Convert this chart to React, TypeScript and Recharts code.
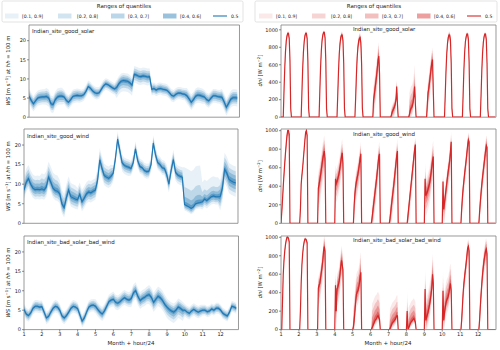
import React from "react";
import { ComposedChart, Area, Line, XAxis, YAxis, ReferenceArea } from "recharts";

const FONT = "'DejaVu Sans', 'Liberation Sans', sans-serif";
const BLUE = "#1f77b4";
const RED = "#d62728";

const MONTH_TICKS = [1, 2, 3, 4, 5, 6, 7, 8, 9, 10, 11, 12];
const WS_TICKS = [0, 5, 10, 15, 20];
const DNI_TICKS = [0, 200, 400, 600, 800, 1000];
const QUANTILE_LABELS = ["[0.1, 0.9]", "[0.2, 0.8]", "[0.3, 0.7]", "[0.4, 0.6]"];
const MEDIAN_LABEL = "0.5";
const LEGEND_TITLE = "Ranges of quantiles";
const SITE_NAMES = ["Indian_site_good_solar", "Indian_site_good_wind", "Indian_site_bad_solar_bad_wind"];
const X_LABEL = "Month + hour/24";

// hours of day sampled in each month
const WS_HOURS = [0, 3, 6, 9, 12, 15, 18, 21];
const DNI_HOURS = [0, 1, 2, 3, 4, 5, 6, 7, 8, 9, 10, 11, 12, 13, 14, 23];

// ---------- wind speed medians (per month, per sampled hour) ----------
const WS_GOOD_SOLAR = [
  [5.5, 4.4, 3.5, 4.3, 5.0, 5.2, 5.3, 5.3],
  [5.4, 5.0, 3.5, 3.3, 4.6, 5.3, 5.5, 5.5],
  [5.3, 4.4, 3.9, 4.6, 5.4, 5.6, 5.7, 5.6],
  [5.6, 5.9, 6.8, 8.0, 7.6, 6.9, 6.4, 6.2],
  [6.4, 7.3, 8.2, 8.7, 8.5, 8.1, 7.7, 7.4],
  [7.8, 8.8, 9.4, 9.6, 9.5, 9.4, 9.0, 8.4],
  [11.2, 11.0, 10.7, 10.6, 10.8, 10.7, 10.5, 10.6],
  [7.3, 7.5, 7.1, 7.4, 7.5, 7.3, 7.2, 7.0],
  [6.4, 5.7, 5.5, 6.0, 6.3, 6.3, 6.1, 6.0],
  [5.6, 4.8, 3.9, 4.6, 5.5, 5.8, 5.7, 5.5],
  [5.3, 4.6, 4.3, 5.0, 5.6, 5.6, 5.4, 5.3],
  [5.2, 4.0, 2.6, 3.6, 4.7, 5.1, 5.1, 5.0],
];
const WS_GOOD_WIND = [
  [8.5, 10.5, 11.4, 10.0, 9.0, 8.6, 8.7, 8.6],
  [8.8, 8.5, 9.3, 11.8, 10.5, 9.0, 8.4, 8.2],
  [7.6, 5.0, 4.0, 6.5, 8.5, 6.8, 6.5, 6.2],
  [6.0, 7.4, 5.5, 6.4, 7.5, 8.0, 7.8, 8.2],
  [8.5, 11.0, 16.2, 14.0, 12.2, 11.8, 11.5, 12.0],
  [12.8, 16.5, 21.5, 18.5, 15.5, 14.8, 14.5, 14.3],
  [14.0, 15.5, 19.0, 16.0, 14.5, 14.2, 13.5, 13.2],
  [13.3, 15.0, 20.5, 17.5, 15.5, 15.0, 14.2, 14.0],
  [12.5, 10.0, 13.5, 16.3, 13.0, 12.3, 12.0, 11.8],
  [4.8, 4.5, 4.2, 3.8, 4.2, 5.0, 5.2, 5.3],
  [5.5, 6.2, 5.8, 6.3, 6.8, 7.0, 6.8, 6.8],
  [6.8, 9.0, 13.8, 12.8, 11.2, 10.8, 10.5, 10.3],
];
const WS_BAD = [
  [5.2, 4.0, 3.6, 4.3, 5.5, 6.0, 6.0, 5.8],
  [5.9, 4.5, 3.0, 3.4, 4.5, 5.5, 6.0, 5.8],
  [5.0, 3.5, 3.0, 3.6, 4.5, 5.5, 6.0, 5.8],
  [5.4, 3.8, 2.2, 3.0, 4.5, 5.8, 6.2, 6.3],
  [6.0, 5.2, 4.5, 4.0, 4.8, 6.0, 7.2, 7.6],
  [7.8, 7.0, 6.8, 7.2, 7.8, 8.2, 7.8, 7.6],
  [8.0, 9.5, 10.0, 8.5, 7.5, 8.0, 8.3, 8.8],
  [9.0, 8.3, 7.0, 7.8, 8.6, 8.2, 7.5, 6.5],
  [5.8, 5.2, 4.8, 4.5, 5.0, 5.8, 5.5, 5.0],
  [5.0, 4.5, 4.2, 4.8, 5.2, 4.8, 4.5, 4.8],
  [5.0, 5.0, 4.6, 4.8, 5.3, 5.0, 5.5, 5.5],
  [5.0, 4.2, 3.8, 3.5, 4.5, 6.0, 5.8, 5.5],
];

// ---------- dni medians (per month, hours 0..14 and 23) ----------
const DNI_GOOD_SOLAR = [
  [0, 0, 0, 0, 300, 560, 750, 870, 930, 960, 960, 900, 650, 100, 0, 0],
  [0, 0, 0, 0, 280, 550, 740, 860, 930, 960, 960, 900, 640, 100, 0, 0],
  [0, 0, 0, 0, 300, 570, 760, 880, 940, 970, 970, 910, 650, 100, 0, 0],
  [0, 0, 0, 0, 250, 520, 720, 840, 910, 940, 940, 880, 620, 100, 0, 0],
  [0, 0, 0, 0, 220, 480, 680, 800, 870, 900, 910, 850, 600, 100, 0, 0],
  [0, 0, 0, 0, 200, 260, 330, 400, 470, 560, 650, 700, 500, 0, 0, 0],
  [0, 0, 0, 0, 30, 60, 80, 100, 120, 150, 200, 350, 150, 0, 0, 0],
  [0, 0, 0, 0, 30, 70, 100, 110, 130, 170, 250, 350, 150, 0, 0, 0],
  [0, 0, 0, 0, 150, 280, 330, 400, 480, 550, 620, 660, 300, 0, 0, 0],
  [0, 0, 0, 0, 250, 520, 720, 840, 910, 940, 940, 880, 620, 100, 0, 0],
  [0, 0, 0, 0, 260, 540, 740, 860, 920, 950, 950, 890, 630, 100, 0, 0],
  [0, 0, 0, 0, 250, 530, 730, 850, 920, 950, 950, 890, 620, 100, 0, 0],
];
const DNI_GOOD_WIND = [
  [0, 120, 250, 400, 530, 650, 760, 860, 950, 1000, 1000, 960, 0, 0, 0, 0],
  [0, 0, 150, 420, 520, 600, 700, 800, 900, 980, 1000, 950, 0, 0, 0, 0],
  [0, 0, 380, 420, 470, 520, 580, 640, 700, 740, 780, 700, 0, 0, 0, 0],
  [0, 480, 430, 450, 480, 510, 550, 600, 660, 720, 760, 650, 0, 0, 0, 0],
  [0, 0, 200, 320, 400, 450, 490, 530, 580, 640, 700, 750, 0, 0, 0, 0],
  [0, 0, 60, 130, 200, 270, 340, 410, 480, 560, 640, 720, 750, 0, 0, 0],
  [0, 0, 50, 120, 200, 270, 340, 410, 490, 570, 650, 730, 780, 0, 0, 0],
  [0, 0, 80, 160, 240, 320, 400, 480, 560, 640, 720, 800, 850, 0, 0, 0],
  [0, 480, 300, 320, 340, 370, 400, 430, 480, 540, 610, 680, 720, 0, 0, 0],
  [0, 450, 150, 220, 290, 360, 430, 500, 560, 620, 680, 780, 880, 0, 0, 0],
  [0, 0, 150, 280, 380, 460, 540, 610, 680, 760, 840, 900, 880, 0, 0, 0],
  [0, 0, 120, 230, 330, 420, 500, 570, 640, 710, 780, 840, 820, 0, 0, 0],
];
const DNI_BAD = [
  [0, 0, 300, 600, 750, 850, 920, 970, 1000, 1000, 990, 950, 0, 0, 0, 0],
  [0, 0, 200, 500, 700, 820, 900, 950, 980, 980, 970, 940, 0, 0, 0, 0],
  [0, 0, 450, 480, 500, 560, 620, 680, 750, 850, 900, 850, 0, 0, 0, 0],
  [0, 480, 200, 440, 460, 490, 530, 600, 680, 750, 700, 650, 0, 0, 0, 0],
  [0, 30, 100, 200, 300, 380, 410, 420, 450, 500, 580, 620, 0, 0, 0, 0],
  [0, 0, 20, 40, 60, 80, 100, 110, 120, 140, 150, 130, 110, 0, 0, 0],
  [0, 0, 10, 30, 50, 70, 80, 90, 100, 110, 130, 150, 150, 0, 0, 0],
  [0, 200, 0, 20, 40, 60, 80, 90, 100, 110, 120, 100, 80, 0, 0, 0],
  [0, 440, 100, 130, 160, 190, 230, 270, 320, 380, 450, 600, 500, 0, 0, 0],
  [0, 420, 100, 180, 240, 290, 320, 340, 360, 400, 460, 500, 420, 0, 0, 0],
  [0, 0, 100, 250, 400, 500, 580, 650, 720, 800, 880, 900, 850, 0, 0, 0],
  [0, 0, 100, 250, 380, 500, 600, 680, 750, 800, 850, 870, 820, 0, 0, 0],
];

// ---------- quantile spreads below / above the median, per month ----------
const WS_GOOD_SOLAR_LO10 = [2.0, 2.2, 1.8, 1.6, 1.5, 2.8, 2.2, 1.6, 1.6, 2.0, 1.8, 2.2];
const WS_GOOD_SOLAR_LO20 = [1.4, 1.5, 1.3, 1.1, 1.0, 1.9, 1.5, 1.1, 1.1, 1.4, 1.3, 1.5];
const WS_GOOD_SOLAR_LO30 = [0.9, 1.0, 0.8, 0.7, 0.65, 1.2, 0.9, 0.7, 0.7, 0.9, 0.8, 1.0];
const WS_GOOD_SOLAR_LO40 = [0.4, 0.45, 0.35, 0.3, 0.3, 0.55, 0.4, 0.3, 0.3, 0.4, 0.35, 0.45];
const WS_GOOD_SOLAR_HI60 = [0.4, 0.45, 0.35, 0.3, 0.3, 0.4, 0.4, 0.3, 0.3, 0.4, 0.35, 0.45];
const WS_GOOD_SOLAR_HI70 = [0.9, 1.0, 0.8, 0.7, 0.65, 0.9, 0.9, 0.7, 0.7, 0.9, 0.8, 1.0];
const WS_GOOD_SOLAR_HI80 = [1.4, 1.5, 1.3, 1.1, 1.0, 1.4, 1.5, 1.1, 1.1, 1.4, 1.3, 1.5];
const WS_GOOD_SOLAR_HI90 = [2.0, 2.2, 1.8, 1.6, 1.5, 2.0, 2.2, 1.6, 1.6, 2.0, 1.8, 2.2];

const WS_GOOD_WIND_LO10 = [2.5, 2.5, 2.5, 2.5, 2.5, 2.2, 1.8, 1.8, 2.2, 1.5, 2.0, 3.5];
const WS_GOOD_WIND_LO20 = [1.8, 1.8, 1.8, 1.8, 1.8, 1.5, 1.3, 1.3, 1.5, 1.1, 1.4, 2.5];
const WS_GOOD_WIND_LO30 = [1.1, 1.1, 1.1, 1.1, 1.1, 0.9, 0.8, 0.8, 0.9, 0.7, 0.9, 1.6];
const WS_GOOD_WIND_LO40 = [0.5, 0.5, 0.5, 0.5, 0.5, 0.4, 0.35, 0.35, 0.4, 0.3, 0.4, 0.7];
const WS_GOOD_WIND_HI60 = [0.7, 0.8, 0.7, 0.6, 0.6, 0.4, 0.4, 0.4, 0.5, 0.8, 0.6, 0.9];
const WS_GOOD_WIND_HI70 = [1.5, 1.7, 1.5, 1.3, 1.3, 0.9, 0.9, 0.9, 1.1, 2.0, 1.3, 1.9];
const WS_GOOD_WIND_HI80 = [2.4, 2.7, 2.4, 2.1, 2.1, 1.4, 1.4, 1.4, 1.7, 4.5, 2.5, 3.0];
const WS_GOOD_WIND_HI90 = [3.5, 4.0, 3.5, 3.0, 3.0, 2.0, 2.0, 2.0, 2.5, 9.5, 5.0, 4.2];

const WS_BAD_LO10 = [1.6, 1.6, 1.6, 1.6, 1.8, 1.8, 2.2, 2.5, 2.8, 1.6, 1.4, 1.4];
const WS_BAD_LO20 = [1.1, 1.1, 1.1, 1.1, 1.2, 1.2, 1.5, 1.7, 1.9, 1.1, 1.0, 1.0];
const WS_BAD_LO30 = [0.7, 0.7, 0.7, 0.7, 0.8, 0.8, 1.0, 1.1, 1.2, 0.7, 0.6, 0.6];
const WS_BAD_LO40 = [0.3, 0.3, 0.3, 0.3, 0.35, 0.35, 0.45, 0.5, 0.55, 0.3, 0.3, 0.3];
const WS_BAD_HI60 = [0.3, 0.3, 0.3, 0.3, 0.35, 0.4, 0.45, 0.5, 0.45, 0.3, 0.3, 0.3];
const WS_BAD_HI70 = [0.7, 0.7, 0.7, 0.7, 0.8, 0.9, 1.0, 1.1, 1.0, 0.7, 0.6, 0.6];
const WS_BAD_HI80 = [1.1, 1.1, 1.1, 1.1, 1.2, 1.4, 1.5, 1.7, 1.5, 1.1, 1.0, 1.0];
const WS_BAD_HI90 = [1.6, 1.6, 1.6, 1.6, 1.8, 2.0, 2.2, 2.5, 2.2, 1.6, 1.4, 1.4];

const DNI_GOOD_SOLAR_LO10 = [40, 40, 40, 60, 80, 220, 100, 100, 200, 60, 40, 40];
const DNI_GOOD_SOLAR_LO20 = [25, 25, 25, 40, 55, 150, 70, 70, 140, 40, 25, 25];
const DNI_GOOD_SOLAR_LO30 = [15, 15, 15, 25, 35, 90, 40, 40, 80, 25, 15, 15];
const DNI_GOOD_SOLAR_LO40 = [5, 5, 5, 10, 15, 40, 20, 20, 35, 10, 5, 5];
const DNI_GOOD_SOLAR_HI60 = [5, 5, 5, 10, 15, 40, 20, 40, 40, 10, 5, 5];
const DNI_GOOD_SOLAR_HI70 = [10, 10, 10, 20, 30, 80, 40, 90, 80, 20, 10, 10];
const DNI_GOOD_SOLAR_HI80 = [15, 15, 15, 30, 45, 120, 60, 160, 110, 30, 15, 15];
const DNI_GOOD_SOLAR_HI90 = [25, 25, 25, 40, 60, 160, 80, 250, 140, 40, 25, 25];

const DNI_GOOD_WIND_LO10 = [80, 60, 250, 200, 200, 200, 200, 180, 220, 200, 150, 160];
const DNI_GOOD_WIND_LO20 = [55, 40, 170, 140, 140, 140, 140, 120, 150, 140, 100, 110];
const DNI_GOOD_WIND_LO30 = [35, 25, 100, 80, 80, 80, 80, 70, 90, 80, 60, 65];
const DNI_GOOD_WIND_LO40 = [15, 10, 45, 35, 35, 35, 35, 30, 40, 35, 25, 30];
const DNI_GOOD_WIND_HI60 = [5, 5, 40, 30, 30, 30, 30, 20, 40, 25, 20, 25];
const DNI_GOOD_WIND_HI70 = [10, 10, 80, 60, 60, 60, 60, 40, 80, 50, 40, 50];
const DNI_GOOD_WIND_HI80 = [15, 15, 120, 100, 90, 90, 90, 60, 120, 80, 60, 80];
const DNI_GOOD_WIND_HI90 = [20, 20, 170, 150, 130, 130, 130, 80, 170, 110, 80, 110];

const DNI_BAD_LO10 = [40, 40, 200, 200, 150, 60, 60, 50, 150, 150, 150, 160];
const DNI_BAD_LO20 = [25, 25, 140, 140, 100, 40, 40, 35, 100, 100, 100, 110];
const DNI_BAD_LO30 = [15, 15, 80, 80, 60, 25, 25, 20, 60, 60, 60, 65];
const DNI_BAD_LO40 = [5, 5, 35, 35, 25, 10, 10, 8, 25, 25, 25, 30];
const DNI_BAD_HI60 = [5, 5, 30, 40, 50, 50, 40, 40, 50, 50, 20, 30];
const DNI_BAD_HI70 = [10, 10, 60, 80, 100, 110, 90, 90, 100, 100, 40, 60];
const DNI_BAD_HI80 = [15, 15, 90, 120, 160, 180, 150, 150, 160, 160, 60, 90];
const DNI_BAD_HI90 = [20, 20, 120, 160, 220, 260, 220, 220, 220, 220, 80, 120];

type Spread = number[][]; // [lo10, lo20, lo30, lo40, hi60, hi70, hi80, hi90]

function buildRows(hours: number[], med: number[][], s: Spread, floorAtZero: boolean) {
  const rows: any[] = [];
  med.forEach((day, mi) => {
    day.forEach((v, hi) => {
      const lo = (arr: number[]) => (floorAtZero ? (v > 0 ? Math.max(0, v - arr[mi]) : 0) : v - arr[mi]);
      const up = (arr: number[]) => (floorAtZero ? (v > 0 ? v + arr[mi] : 0) : v + arr[mi]);
      rows.push({
        x: mi + 1 + hours[hi] / 24,
        med: v,
        b1: [lo(s[0]), up(s[7])],
        b2: [lo(s[1]), up(s[6])],
        b3: [lo(s[2]), up(s[5])],
        b4: [lo(s[3]), up(s[4])],
      });
    });
  });
  return rows;
}

const ROWS_WS_GOOD_SOLAR = buildRows(WS_HOURS, WS_GOOD_SOLAR, [WS_GOOD_SOLAR_LO10, WS_GOOD_SOLAR_LO20, WS_GOOD_SOLAR_LO30, WS_GOOD_SOLAR_LO40, WS_GOOD_SOLAR_HI60, WS_GOOD_SOLAR_HI70, WS_GOOD_SOLAR_HI80, WS_GOOD_SOLAR_HI90], false);
const ROWS_WS_GOOD_WIND = buildRows(WS_HOURS, WS_GOOD_WIND, [WS_GOOD_WIND_LO10, WS_GOOD_WIND_LO20, WS_GOOD_WIND_LO30, WS_GOOD_WIND_LO40, WS_GOOD_WIND_HI60, WS_GOOD_WIND_HI70, WS_GOOD_WIND_HI80, WS_GOOD_WIND_HI90], false);
const ROWS_WS_BAD = buildRows(WS_HOURS, WS_BAD, [WS_BAD_LO10, WS_BAD_LO20, WS_BAD_LO30, WS_BAD_LO40, WS_BAD_HI60, WS_BAD_HI70, WS_BAD_HI80, WS_BAD_HI90], false);
const ROWS_DNI_GOOD_SOLAR = buildRows(DNI_HOURS, DNI_GOOD_SOLAR, [DNI_GOOD_SOLAR_LO10, DNI_GOOD_SOLAR_LO20, DNI_GOOD_SOLAR_LO30, DNI_GOOD_SOLAR_LO40, DNI_GOOD_SOLAR_HI60, DNI_GOOD_SOLAR_HI70, DNI_GOOD_SOLAR_HI80, DNI_GOOD_SOLAR_HI90], true);
const ROWS_DNI_GOOD_WIND = buildRows(DNI_HOURS, DNI_GOOD_WIND, [DNI_GOOD_WIND_LO10, DNI_GOOD_WIND_LO20, DNI_GOOD_WIND_LO30, DNI_GOOD_WIND_LO40, DNI_GOOD_WIND_HI60, DNI_GOOD_WIND_HI70, DNI_GOOD_WIND_HI80, DNI_GOOD_WIND_HI90], true);
const ROWS_DNI_BAD = buildRows(DNI_HOURS, DNI_BAD, [DNI_BAD_LO10, DNI_BAD_LO20, DNI_BAD_LO30, DNI_BAD_LO40, DNI_BAD_HI60, DNI_BAD_HI70, DNI_BAD_HI80, DNI_BAD_HI90], true);

const BAND_OPACITY = [0.1, 0.2, 0.3, 0.45];

const YW = 24;
const TM = 2;
const RM = 3;

type Rect = { l: number; t: number; w: number; h: number };

function Panel({ rect, rows, color, yMax, yTicks, showLabels, lineWidth }: { rect: Rect; rows: any[]; color: string; yMax: number; yTicks: number[]; showLabels: boolean; lineWidth: number }) {
  const xh = showLabels ? 12 : 4;
  const tickStyle = { fontSize: 5, fill: "#222", fontFamily: FONT };
  return (
    <div style={{ position: "absolute", left: rect.l - YW, top: rect.t - TM }}>
      <ComposedChart width={rect.w + YW + RM} height={rect.h + TM + xh} data={rows} margin={{ top: TM, right: RM, left: 0, bottom: 0 }}>
        <XAxis
          dataKey="x"
          type="number"
          domain={[1, 13]}
          ticks={MONTH_TICKS}
          interval={0}
          allowDataOverflow
          height={xh}
          axisLine={false}
          tickSize={2}
          tickMargin={1}
          tickLine={{ stroke: "#444", strokeWidth: 0.6 }}
          tick={showLabels ? tickStyle : false}
        />
        <YAxis
          type="number"
          domain={[0, yMax]}
          ticks={yTicks}
          interval={0}
          allowDataOverflow
          width={YW}
          axisLine={false}
          tickSize={2}
          tickMargin={1}
          tickLine={{ stroke: "#444", strokeWidth: 0.6 }}
          tick={tickStyle}
        />
        {["b1", "b2", "b3", "b4"].map((k, i) => (
          <Area
            key={k}
            dataKey={k}
            type="linear"
            stroke="none"
            fill={color}
            fillOpacity={BAND_OPACITY[i]}
            isAnimationActive={false}
            dot={false}
            activeDot={false}
          />
        ))}
        <Line dataKey="med" type="linear" stroke={color} strokeWidth={lineWidth} dot={false} activeDot={false} isAnimationActive={false} />
        <ReferenceArea x1={1} x2={13} y1={0} y2={yMax} fill="none" stroke="#808080" strokeWidth={0.8} ifOverflow="visible" />
      </ComposedChart>
    </div>
  );
}

const LEFT_RECTS: Rect[] = [
  { l: 29, t: 24.5, w: 210.5, h: 92.2 },
  { l: 24, t: 129, w: 214, h: 94.3 },
  { l: 23.5, t: 235.7, w: 214.5, h: 93.6 },
];
const RIGHT_RECTS: Rect[] = [
  { l: 281, t: 24.5, w: 215, h: 92.2 },
  { l: 281, t: 129, w: 215, h: 94.3 },
  { l: 281, t: 235.7, w: 215, h: 93.6 },
];
const DNI_MAX = [1055, 1018, 1014];

function Legend({ dx, color, titleX, boxL, boxR }: { dx: number; color: string; titleX: number; boxL: number; boxR: number }) {
  const sw = [5, 58, 111, 163];
  const tx = [22, 77, 128, 180];
  return (
    <g>
      <rect x={boxL} y={1} width={boxR - boxL} height={21} rx={1.5} fill="#fff" fillOpacity={0.8} stroke="#d0d0d0" strokeWidth={0.6} />
      <text x={titleX} y={8} textAnchor="middle" fontSize={5.5} fill="#222" fontFamily={FONT}>
        {LEGEND_TITLE}
      </text>
      {QUANTILE_LABELS.map((lab, i) => (
        <g key={lab}>
          <rect x={sw[i] + dx} y={13.5} width={13.5} height={5} fill={color} fillOpacity={BAND_OPACITY[i]} />
          <text x={tx[i] + dx} y={17.8} fontSize={4.6} fill="#222" fontFamily={FONT}>
            {lab}
          </text>
        </g>
      ))}
      <line x1={213 + dx} x2={227 + dx} y1={16} y2={16} stroke={color} strokeWidth={1.1} />
      <text x={231 + dx} y={17.8} fontSize={4.6} fill="#222" fontFamily={FONT}>
        {MEDIAN_LABEL}
      </text>
    </g>
  );
}

function Overlay() {
  const leftTitlePos = [
    [32, 33],
    [27, 137.5],
    [27, 244],
  ];
  const rightTitleY = [31, 136, 241.8];
  return (
    <svg width={500} height={350} style={{ position: "absolute", left: 0, top: 0, pointerEvents: "none" }}>
      <Legend dx={0} color={BLUE} titleX={124} boxL={2} boxR={243} />
      <Legend dx={254} color={RED} titleX={374} boxL={255} boxR={497} />
      {SITE_NAMES.map((n, i) => (
        <text key={"l" + n} x={leftTitlePos[i][0]} y={leftTitlePos[i][1]} fontSize={5.5} fill="#222" fontFamily={FONT}>
          {n}
        </text>
      ))}
      {SITE_NAMES.map((n, i) => (
        <text key={"r" + n} x={353} y={rightTitleY[i]} fontSize={5.5} fill="#222" fontFamily={FONT}>
          {n}
        </text>
      ))}
      {LEFT_RECTS.map((r, i) => {
        const cy = r.t + r.h / 2;
        return (
          <text key={"yl" + i} x={0} y={0} transform={`translate(9.5, ${cy}) rotate(-90)`} textAnchor="middle" fontSize={5.3} fill="#222" fontFamily={FONT}>
            <tspan fontStyle="italic">WS</tspan>
            <tspan> [m s</tspan>
            <tspan dy={-1.8} fontSize={3.8}>−1</tspan>
            <tspan dy={1.8}>] at </tspan>
            <tspan fontStyle="italic">hh</tspan>
            <tspan> = 100 m</tspan>
          </text>
        );
      })}
      {RIGHT_RECTS.map((r, i) => {
        const cy = r.t + r.h / 2;
        return (
          <text key={"yr" + i} x={0} y={0} transform={`translate(262, ${cy}) rotate(-90)`} textAnchor="middle" fontSize={5.3} fill="#222" fontFamily={FONT}>
            <tspan fontStyle="italic">dni</tspan>
            <tspan> [W m</tspan>
            <tspan dy={-1.8} fontSize={3.8}>−2</tspan>
            <tspan dy={1.8}>]</tspan>
          </text>
        );
      })}
      <text x={131} y={344.5} textAnchor="middle" fontSize={5.5} fill="#222" fontFamily={FONT}>
        {X_LABEL}
      </text>
      <text x={388} y={344.5} textAnchor="middle" fontSize={5.5} fill="#222" fontFamily={FONT}>
        {X_LABEL}
      </text>
    </svg>
  );
}

export default function App() {
  const wsRows = [ROWS_WS_GOOD_SOLAR, ROWS_WS_GOOD_WIND, ROWS_WS_BAD];
  const dniRows = [ROWS_DNI_GOOD_SOLAR, ROWS_DNI_GOOD_WIND, ROWS_DNI_BAD];
  return (
    <div style={{ position: "absolute", left: 0, top: 0, width: 500, height: 350, background: "#fff", overflow: "hidden" }}>
      {LEFT_RECTS.map((r, i) => (
        <Panel key={"L" + i} rect={r} rows={wsRows[i]} color={BLUE} yMax={24.1} yTicks={WS_TICKS} showLabels={i === 2} lineWidth={1.1} />
      ))}
      {RIGHT_RECTS.map((r, i) => (
        <Panel key={"R" + i} rect={r} rows={dniRows[i]} color={RED} yMax={DNI_MAX[i]} yTicks={DNI_TICKS} showLabels={i === 2} lineWidth={1.2} />
      ))}
      <Overlay />
    </div>
  );
}
